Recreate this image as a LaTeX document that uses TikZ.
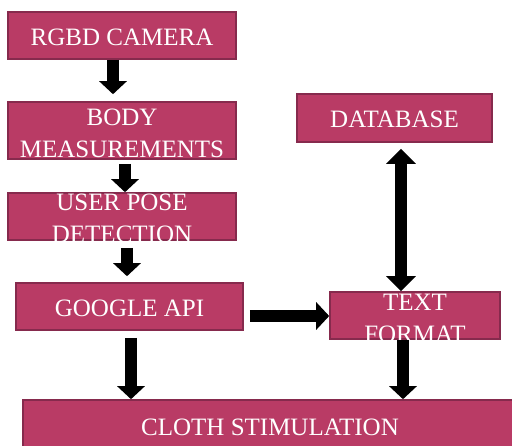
\documentclass[tikz,border=0pt]{standalone}
\usepackage{fontspec}
\setmainfont{Liberation Serif}
\usetikzlibrary{arrows.meta}
\definecolor{BoxRose}{HTML}{B93B65}
\definecolor{BoxEdge}{HTML}{862A4D}

\begin{document}
\begin{tikzpicture}[x=1pt,y=-1pt,
    blk/.style={draw=BoxEdge,line width=1.6pt,fill=BoxRose,inner sep=0pt},
    lbl/.style={text=white,font=\fontsize{25}{32}\selectfont,align=center,inner sep=0pt},
    flow/.style={line width=12pt,-{Triangle[width=27pt,length=13pt]}},
    dflow/.style={line width=12pt,{Triangle[width=29pt,length=15pt]}-{Triangle[width=29pt,length=15pt]}}]
  \useasboundingbox (0,0) rectangle (512,445);
  % boxes
  \node[blk,minimum width=228,minimum height=47] (camera) at (122,35.5) {};
  \node[lbl,yshift=-1.5pt] (cameratxt) at (camera.center) {RGBD CAMERA};
  \node[blk,minimum width=228,minimum height=57] (body) at (122,130.5) {};
  \node[lbl,yshift=-2.5pt] (bodytxt) at (body.center) {BODY\\MEASUREMENTS};
  \node[blk,minimum width=228,minimum height=47] (pose) at (122,216.5) {};
  \node[lbl,yshift=-2pt] (posetxt) at (pose.center) {USER POSE\\DETECTION};
  \node[blk,minimum width=227,minimum height=47] (google) at (129.5,306.5) {};
  \node[lbl,yshift=-1.5pt] (googletxt) at (google.center) {GOOGLE API};
  \node[blk,minimum width=195,minimum height=48] (database) at (394.5,118) {};
  \node[lbl,yshift=-1pt] (databasetxt) at (database.center) {DATABASE};
  \node[blk,minimum width=170,minimum height=47] (textfmt) at (415,315.5) {};
  \node[lbl,yshift=-2.5pt] (textfmttxt) at (textfmt.center) {TEXT\\FORMAT};
  \node[blk,minimum width=494,minimum height=48] (cloth) at (270,424) {};
  \node[lbl,yshift=-3pt] (clothtxt) at (cloth.center) {CLOTH STIMULATION};
  % arrows
  \draw[flow,shorten >=7pt] ([xshift=-9pt]camera.south) -- ([xshift=-9pt]body.north);
  \draw[flow,shorten <=4pt] ([xshift=3pt]body.south) -- ([xshift=3pt]pose.north);
  \draw[flow,shorten <=7pt,shorten >=6pt] ([xshift=5pt]pose.south) -- ([xshift=-2.5pt]google.north);
  \draw[flow,shorten <=7pt] ([xshift=1.5pt]google.south) -- ([xshift=1.5pt]google.south |- cloth.north);
  \draw[flow,shorten <=6pt] ([yshift=-9.5pt]google.east) -- ([yshift=-9.5pt]google.east -| textfmt.west);
  \draw[flow] ([xshift=-12pt]textfmt.south) -- ([xshift=-12pt]textfmt.south |- cloth.north);
  \draw[dflow,shorten <=6pt] ([xshift=6.5pt]database.south) -- ([xshift=6.5pt]database.south |- textfmt.north);
\end{tikzpicture}
\end{document}
